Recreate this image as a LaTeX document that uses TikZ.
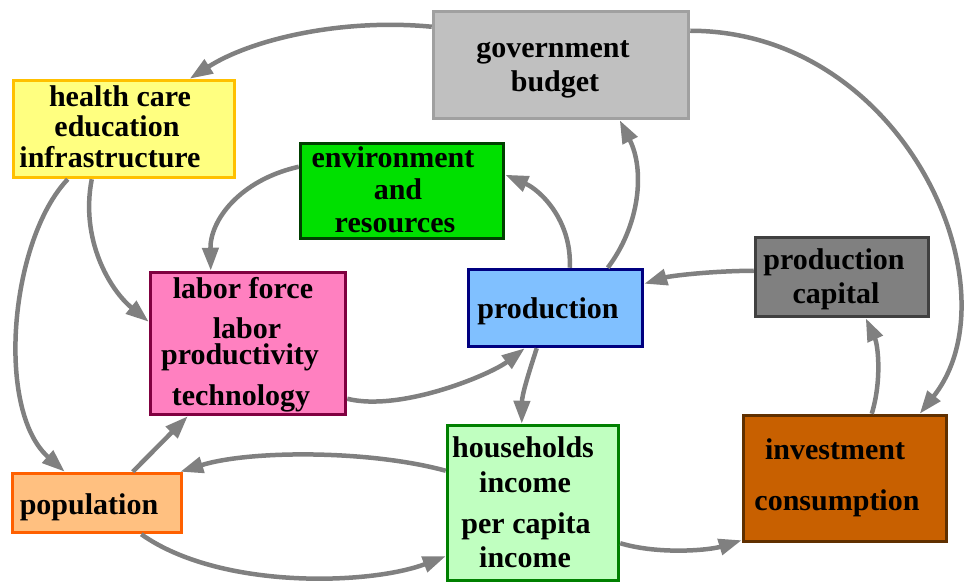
\documentclass[tikz,border=0pt]{standalone}
\usepackage{fontspec}
\setmainfont{Liberation Serif}
\usetikzlibrary{arrows.meta,calc}
\definecolor{arrowgray}{HTML}{808080}
\definecolor{govfill}{HTML}{C0C0C0}\definecolor{govdraw}{HTML}{A0A0A0}
\definecolor{hfill}{HTML}{FFFF80}\definecolor{hdraw}{HTML}{FFC000}
\definecolor{efill}{HTML}{00E000}\definecolor{edraw}{HTML}{004000}
\definecolor{lfill}{HTML}{FF80C0}\definecolor{ldraw}{HTML}{800040}
\definecolor{pfill}{HTML}{80C0FF}\definecolor{pdraw}{HTML}{000080}
\definecolor{cfill}{HTML}{808080}\definecolor{cdraw}{HTML}{404040}
\definecolor{popfill}{HTML}{FFC080}\definecolor{popdraw}{HTML}{FF6000}
\definecolor{hhfill}{HTML}{C0FFC0}\definecolor{hhdraw}{HTML}{008000}
\definecolor{ifill}{HTML}{C86000}\definecolor{idraw}{HTML}{603000}
\begin{document}
\begin{tikzpicture}[x=1pt,y=-1pt,
  box/.style={draw, line width=3.5pt, rectangle, inner sep=0pt, anchor=center},
  lbl/.style={font=\fontsize{30}{30}\selectfont\bfseries, anchor=base, inner sep=0pt},
  link/.style={draw=arrowgray, line width=4.5pt, -{Triangle[length=23pt,width=16pt]}}]
\useasboundingbox (0,0) rectangle (964,585);
% boxes
\node[box, fill=govfill, draw=govdraw, minimum width=255pt, minimum height=107pt] (gov) at (561,65) {};
\node[box, fill=hfill, draw=hdraw, minimum width=221pt, minimum height=97pt] (hc) at (124,129) {};
\node[box, fill=efill, draw=edraw, minimum width=203pt, minimum height=95pt] (env) at (402,191) {};
\node[box, fill=cfill, draw=cdraw, minimum width=173pt, minimum height=79pt] (pcap) at (842,277) {};
\node[box, fill=lfill, draw=ldraw, minimum width=195pt, minimum height=142pt] (lab) at (248,343.5) {};
\node[box, fill=pfill, draw=pdraw, minimum width=174pt, minimum height=77pt] (prod) at (555.5,308) {};
\node[box, fill=popfill, draw=popdraw, minimum width=169pt, minimum height=59pt] (pop) at (97,503) {};
\node[box, fill=hhfill, draw=hhdraw, minimum width=171pt, minimum height=155pt] (hh) at (533,503) {};
\node[box, fill=ifill, draw=idraw, minimum width=203pt, minimum height=126pt] (inv) at (845,478.5) {};
% labels
\node[lbl] (gov1) at (553,58) {government};
\node[lbl] (gov2) at (555,92) {budget};
\node[lbl] (hc1) at (120,107) {health care};
\node[lbl] (hc2) at (117,137) {education};
\node[lbl] (hc3) at (110,168) {infrastructure};
\node[lbl] (env1) at (393,168) {environment};
\node[lbl] (env2) at (398,200) {and};
\node[lbl] (env3) at (395,233) {resources};
\node[lbl] (pc1) at (834,270) {production};
\node[lbl] (pc2) at (836,304) {capital};
\node[lbl] (lab1) at (243,299) {labor force};
\node[lbl] (lab2) at (247,338) {labor};
\node[lbl] (lab3) at (240,364) {productivity};
\node[lbl] (lab4) at (241,405) {technology};
\node[lbl] (prod1) at (548,319) {production};
\node[lbl] (pop1) at (89,514) {population};
\node[lbl] (hh1) at (523,457) {households};
\node[lbl] (hh2) at (525,492) {income};
\node[lbl] (hh3) at (526,533) {per capita};
\node[lbl] (hh4) at (525,567) {income};
\node[lbl] (inv1) at (835,459) {investment};
\node[lbl] (inv2) at (837,510) {consumption};
% connectors
\draw[link] ($(gov.north west)+(0,17)$) .. controls (340,18) and (250,40) .. ($(hc.north west)+(178,0)$);
\draw[link] ($(gov.north east)+(0,21)$) .. controls (905,31) and (1018,290) .. ($(inv.north west)+(178,0)$);
\draw[link] ($(hc.south west)+(56,0)$) .. controls (10,240) and (-5,410) .. ($(pop.north west)+(54,0)$);
\draw[link] ($(hc.south west)+(80,0)$) .. controls (80,240) and (110,290) .. ($(lab.north west)+(0,51)$);
\draw[link] ($(env.north west)+(0,25)$) .. controls (240,180) and (210,220) .. ($(lab.north west)+(62,0)$);
\draw[link] ($(prod.north west)+(103,0)$) .. controls (572,220) and (540,190) .. ($(env.north east)+(0,33)$);
\draw[link] ($(prod.north west)+(141,0)$) .. controls (640,225) and (645,170) .. ($(gov.south west)+(188,0)$);
\draw[link] ($(pcap.north west)+(0,35)$) .. controls (710,271) and (670,276) .. ($(prod.north east)+(0,16)$);
\draw[link] ($(lab.north east)+(0,128)$) .. controls (400,412) and (490,375) .. ($(prod.south west)+(58,0)$);
\draw[link] ($(prod.south west)+(70,0)$) .. controls (528,375) and (522,395) .. ($(hh.north west)+(76,0)$);
\draw[link] ($(pop.north west)+(122,0)$) -- ($(lab.south west)+(39,0)$);
\draw[link] ($(hh.north west)+(0,47)$) .. controls (370,450) and (250,450) .. ($(pop.north east)+(-3,0)$);
\draw[link] ($(pop.south east)+(-42,0)$) .. controls (220,590) and (370,585) .. ($(hh.south west)+(0,-26)$);
\draw[link] ($(hh.south east)+(0,-39)$) .. controls (660,555) and (710,550) .. ($(inv.south west)+(0,-3)$);
\draw[link] ($(inv.north west)+(130,0)$) .. controls (882,380) and (878,345) .. ($(pcap.south west)+(112,0)$);
\end{tikzpicture}
\end{document}
